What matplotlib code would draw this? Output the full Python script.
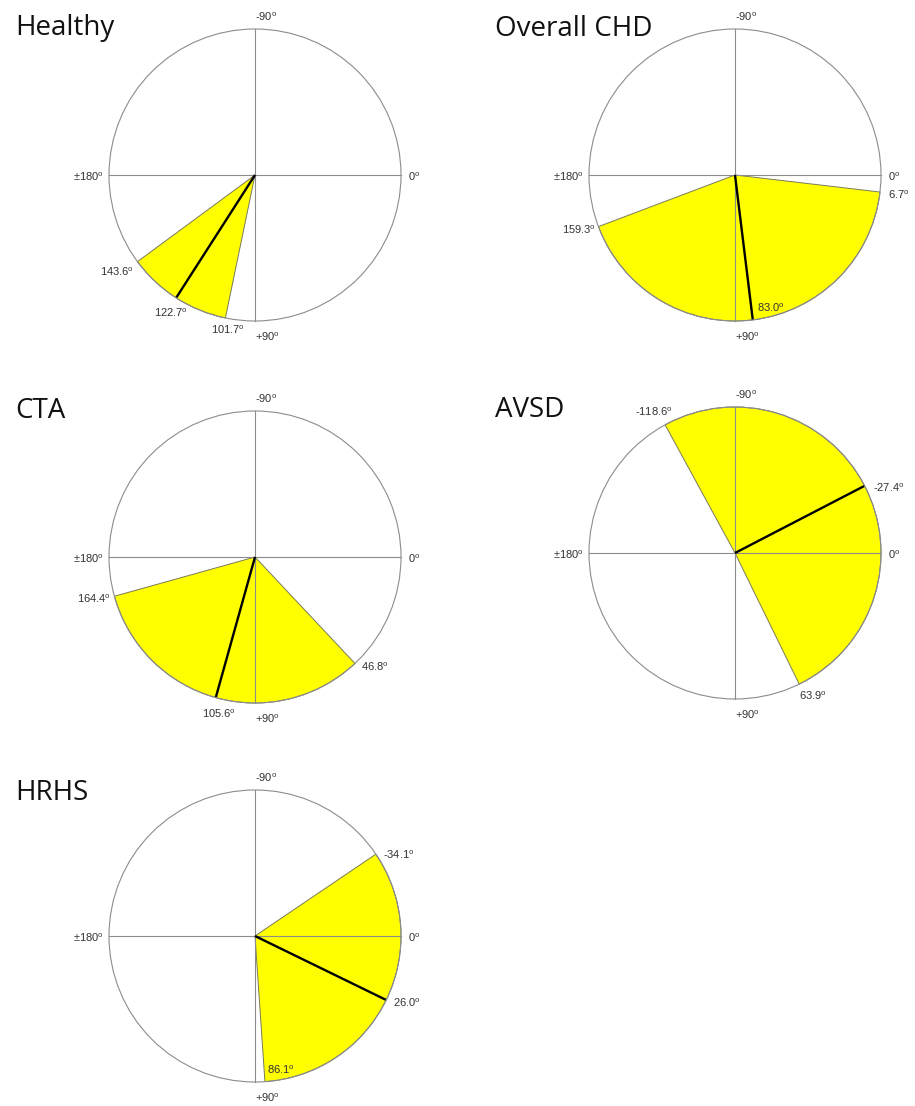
import matplotlib
matplotlib.use("Agg")
import matplotlib.pyplot as plt
from matplotlib.patches import Circle, Wedge
import numpy as np

plt.rcParams["font.family"] = ["Liberation Sans", "DejaVu Sans"]
plt.rcParams["mathtext.fontset"] = "custom"
plt.rcParams["mathtext.rm"] = "Liberation Sans"
plt.rcParams["mathtext.it"] = "Liberation Sans:italic"

# Orientation ranges (degrees, clockwise from the right, +90 pointing down)
panels = ["Healthy", "Overall CHD", "CTA", "AVSD", "HRHS"]
angle_low = [101.7, 6.7, 46.8, -118.6, -34.1]
angle_high = [143.6, 159.3, 164.4, 63.9, 86.1]
angle_mean = [122.7, 83.0, 105.6, -27.4, 26.0]

# ---- layout (pixels) ----
W, H = 915, 1106
R = 146.0          # circle radius in px
HALF = 170.0       # half-size of each panel axes in px
centers = [(255, 175), (735, 175), (255, 557), (735, 553), (255, 936)]
title_pos = [(15, 35), (495, 36), (15, 418), (495, 417), (15, 800)]

# label offsets (dx right, dy down, ha) for low / high / mean labels
label_layout = {
    "Healthy":     [(3, 12, "center"), (-4, 10, "right"), (-5, 15, "center")],
    "Overall CHD": [(8, 3, "left"), (-3, 3, "right"), (4, -12, "left")],
    "CTA":         [(6, 3, "left"), (-3, 3, "right"), (3, 16, "center")],
    "AVSD":        [(-11, -13, "center"), (0, 12, "left"), (8, 2, "left")],
    "HRHS":        [(7, 1, "left"), (2, -12, "left"), (7, 3, "left")],
}

DEG = r"$^{\rm o}$"
GRID = "#8c8c8c"
TXT = "#333333"
LBL_FS = 8

fig = plt.figure(figsize=(W / 100, H / 100), dpi=100)

for name, lo, hi, mean, (cx, cy), (tx, ty) in zip(
        panels, angle_low, angle_high, angle_mean, centers, title_pos):
    ax = fig.add_axes([(cx - HALF) / W, 1 - (cy + HALF) / H,
                       2 * HALF / W, 2 * HALF / H])
    lim = HALF / R
    ax.set_xlim(-lim, lim)
    ax.set_ylim(lim, -lim)   # y grows downward, so +90 sits at the bottom
    ax.axis("off")

    ax.add_patch(Circle((0, 0), 1, facecolor="white", edgecolor="none", zorder=1))
    ax.add_patch(Wedge((0, 0), 1, lo, hi, facecolor="#ffff00",
                       edgecolor="#7a7a5a", lw=0.7, zorder=2))
    ax.plot([-1, 1], [0, 0], color=GRID, lw=0.8, zorder=3)
    ax.plot([0, 0], [-1, 1], color=GRID, lw=0.8, zorder=3)
    m = np.deg2rad(mean)
    ax.plot([0, np.cos(m)], [0, np.sin(m)], color="black", lw=1.7,
            solid_capstyle="butt", zorder=4)
    ax.add_patch(Circle((0, 0), 1, facecolor="none", edgecolor=GRID,
                        lw=0.8, zorder=5))

    # fixed reference directions
    fixed = [((0, -1), (0, 12), "left", "-90"),
             ((1, 0), (7, -2), "left", "0"),
             ((-1, 0), (-5, -2), "right", r"$\pm$180"),
             ((0, 1), (0, -16), "left", "+90")]
    for xy, off, ha, s in fixed:
        ax.annotate(s + DEG, xy=xy, xytext=off, textcoords="offset pixels",
                    ha=ha, va="center", fontsize=LBL_FS, color=TXT,
                    annotation_clip=False)

    # range limits and mean labels
    for val, (dx, dy, ha) in zip([lo, hi, mean], label_layout[name]):
        a = np.deg2rad(val)
        ax.annotate(f"{val:.1f}" + DEG, xy=(np.cos(a), np.sin(a)),
                    xytext=(dx, -dy), textcoords="offset pixels",
                    ha=ha, va="center", fontsize=LBL_FS, color=TXT,
                    annotation_clip=False, zorder=6)

    fig.text(tx / W, 1 - ty / H, name, fontsize=20, family="Open Sans",
             color="#111111", va="baseline", ha="left")

fig.savefig("out.png", dpi=100, facecolor="white")
